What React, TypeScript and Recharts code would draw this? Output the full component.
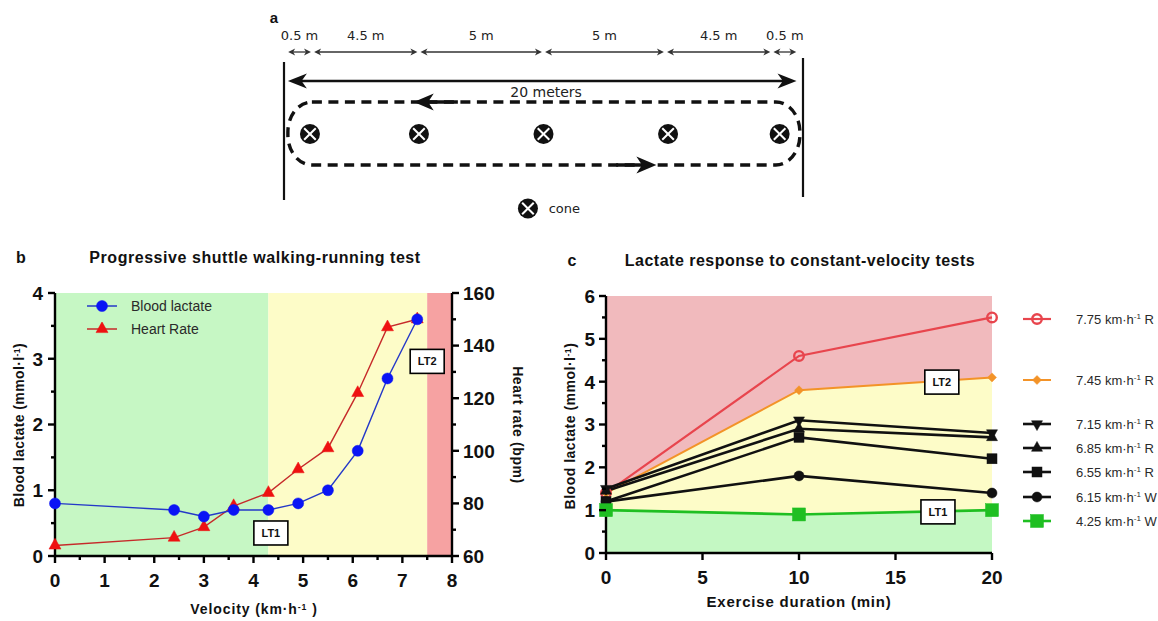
import React from 'react';
import {
  ComposedChart,
  Line,
  Area,
  XAxis,
  YAxis,
  ReferenceArea,
  ReferenceDot,
  ReferenceLine,
  Legend,
} from 'recharts';

const FONT = '"Liberation Sans", Arial, Helvetica, sans-serif';
const SKETCH_FONT = '"DejaVu Sans", Verdana, sans-serif';
const INK = '#111';

// a: shuttle course, x in metres along the course
const segmentEdges = [0.1, 1.1, 5.2, 10.0, 14.7, 18.8, 19.8];
const segmentLabels = ['0.5 m', '4.5 m', '5 m', '5 m', '4.5 m', '0.5 m'];
const conePositions = [1.0, 5.2, 10.0, 14.8, 19.1];
const courseLabel = '20 meters';

// b: progressive shuttle walking-running test
const velocity = [0, 2.4, 3, 3.6, 4.3, 4.9, 5.5, 6.1, 6.7, 7.3];
const bloodLactate = [0.8, 0.7, 0.6, 0.7, 0.7, 0.8, 1.0, 1.6, 2.7, 3.6];
const heartRate = [64, 67, 71, 79, 84, 93, 101, 122, 147, 150];
const lt1Velocity = 4.3;
const lt2Velocity = 7.5;
const velocityTicks = [0, 0.5, 1, 1.5, 2, 2.5, 3, 3.5, 4, 4.5, 5, 5.5, 6, 6.5, 7, 7.5, 8];
const lactateTicksB = [0, 0.5, 1, 1.5, 2, 2.5, 3, 3.5, 4];
const heartRateTicks = [60, 70, 80, 90, 100, 110, 120, 130, 140, 150, 160];

// c: lactate during constant-velocity tests
const duration = [0, 10, 20];
const lactate775 = [1.4, 4.6, 5.5];
const lactate745 = [1.4, 3.8, 4.1];
const lactate715 = [1.5, 3.1, 2.8];
const lactate685 = [1.45, 2.9, 2.7];
const lactate655 = [1.2, 2.7, 2.2];
const lactate615 = [1.2, 1.8, 1.4];
const lactate425 = [1.0, 0.9, 1.0];
const durationTicks = [0, 5, 10, 15, 20];
const lactateTicksC = [0, 0.5, 1, 1.5, 2, 2.5, 3, 3.5, 4, 4.5, 5, 5.5, 6];

const shuttleData = velocity.map((v, i) => ({ v, lactate: bloodLactate[i], hr: heartRate[i] }));

const runs = [
  { key: 'v775', speed: '7.75', mode: 'R', values: lactate775 },
  { key: 'v745', speed: '7.45', mode: 'R', values: lactate745 },
  { key: 'v715', speed: '7.15', mode: 'R', values: lactate715 },
  { key: 'v685', speed: '6.85', mode: 'R', values: lactate685 },
  { key: 'v655', speed: '6.55', mode: 'R', values: lactate655 },
  { key: 'v615', speed: '6.15', mode: 'W', values: lactate615 },
  { key: 'v425', speed: '4.25', mode: 'W', values: lactate425 },
];

const runData = duration.map((t, i) => {
  const row: Record<string, number> = { t };
  runs.forEach((r) => {
    row[r.key] = r.values[i];
  });
  return row;
});

type MarkerKind = 'circle' | 'square' | 'triangle' | 'triangleDown' | 'diamond';

const runStyle: Record<string, { color: string; marker: MarkerKind; size: number; open?: boolean; width: number; legendTop: number }> = {
  v775: { color: '#e8454d', marker: 'circle', size: 12, open: true, width: 2.2, legendTop: 70 },
  v745: { color: '#f39328', marker: 'diamond', size: 9, width: 2, legendTop: 131 },
  v715: { color: INK, marker: 'triangleDown', size: 11, width: 2.6, legendTop: 175 },
  v685: { color: INK, marker: 'triangle', size: 11, width: 2.6, legendTop: 199 },
  v655: { color: INK, marker: 'square', size: 10, width: 2.6, legendTop: 223 },
  v615: { color: INK, marker: 'circle', size: 10, width: 2.6, legendTop: 248 },
  v425: { color: '#1fbf22', marker: 'square', size: 13, width: 2.6, legendTop: 272 },
};

function Marker({ cx, cy, kind, size, color, open = false }: { cx?: number; cy?: number; kind: MarkerKind; size: number; color: string; open?: boolean }) {
  if (cx == null || cy == null) return null;
  const h = size / 2;
  const common = { fill: open ? 'none' : color, stroke: color, strokeWidth: open ? 2.4 : 0.5 };
  switch (kind) {
    case 'square':
      return <rect x={cx - h} y={cy - h} width={size} height={size} {...common} />;
    case 'triangle': {
      const t = size * 0.9;
      return <polygon points={`${cx},${cy - (t * 2) / 3} ${cx + h},${cy + t / 3} ${cx - h},${cy + t / 3}`} {...common} />;
    }
    case 'triangleDown': {
      const t = size * 0.9;
      return <polygon points={`${cx},${cy + (t * 2) / 3} ${cx + h},${cy - t / 3} ${cx - h},${cy - t / 3}`} {...common} />;
    }
    case 'diamond':
      return <polygon points={`${cx},${cy - h} ${cx + h},${cy} ${cx},${cy + h} ${cx - h},${cy}`} {...common} />;
    default:
      return <circle cx={cx} cy={cy} r={open ? h - 1.2 : h} {...common} />;
  }
}

// ticks drawn by hand so minor ticks are shorter and unlabelled
function axisTick(side: 'left' | 'right' | 'bottom', offset: number, isMajor: (v: number) => boolean) {
  return (props: any) => {
    const { x, y, payload, index } = props;
    const v = payload.value;
    const major = isMajor(v);
    const len = major ? 7 : 4;
    const text = { fontFamily: FONT, fontSize: 19, fontWeight: 700, fill: INK };
    if (side === 'bottom') {
      const ay = y - offset;
      return (
        <g key={`t${index}`}>
          <line x1={x} x2={x} y1={ay} y2={ay + len} stroke="#000" strokeWidth={2.4} />
          {major && (
            <text x={x} y={y} dy="0.72em" textAnchor="middle" {...text}>
              {v}
            </text>
          )}
        </g>
      );
    }
    const dir = side === 'left' ? -1 : 1;
    const ax = x - dir * offset;
    return (
      <g key={`t${index}`}>
        <line x1={ax} x2={ax + dir * len} y1={y} y2={y} stroke="#000" strokeWidth={2.4} />
        {major && (
          <text x={x} y={y} dy="0.36em" textAnchor={side === 'left' ? 'end' : 'start'} {...text}>
            {v}
          </text>
        )}
      </g>
    );
  };
}

const isInt = (v: number) => Number.isInteger(v);
const AXIS_LINE = { stroke: '#000', strokeWidth: 2.4 };

const ltBox = (label: string) => (p: any) => (
  <g>
    <rect x={p.cx - 17} y={p.cy - 12} width={34} height={24} fill="#fff" stroke="#000" strokeWidth={1.6} />
    <text x={p.cx} y={p.cy} dy="0.36em" textAnchor="middle" fontFamily={FONT} fontSize={11} fontWeight={700} fill={INK}>
      {label}
    </text>
  </g>
);

function Sup({ children }: { children: React.ReactNode }) {
  return (
    <span style={{ fontSize: '0.62em', position: 'relative', top: '-0.5em', lineHeight: 0 }}>{children}</span>
  );
}

function Caption({ x, y, size, spacing = 0, bold = true, rotate = 0, children }: { x: number; y: number; size: number; spacing?: number; bold?: boolean; rotate?: number; children: React.ReactNode }) {
  return (
    <div
      style={{
        position: 'absolute',
        left: x,
        top: y,
        transform: `translate(-50%, -50%) rotate(${rotate}deg)`,
        whiteSpace: 'nowrap',
        fontFamily: FONT,
        fontSize: size,
        fontWeight: bold ? 700 : 400,
        letterSpacing: spacing,
        lineHeight: 1,
        color: INK,
      }}
    >
      {children}
    </div>
  );
}

// ---------- a: course sketch ----------
const ROW = { label: 3.5, segment: 5.2, span: 8.1, spanText: 9.25, pathTop: 10.2, cone: 13.4, pathBottom: 16.5, key: 20.85 };

function headPoints(tx: number, ty: number, dir: number, len: number, half: number) {
  const bx = tx - dir * len;
  const nx = tx - dir * len * 0.72;
  return `${tx},${ty} ${bx},${ty - half} ${nx},${ty} ${bx},${ty + half}`;
}

const smallDoubleArrow = (p: any) => (
  <g>
    <line x1={p.x1 + 3} x2={p.x2 - 3} y1={p.y1} y2={p.y2} stroke="#333" strokeWidth={1.3} />
    <polygon points={headPoints(p.x1, p.y1, -1, 7, 3.4)} fill="#333" />
    <polygon points={headPoints(p.x2, p.y2, 1, 7, 3.4)} fill="#333" />
  </g>
);

const bigDoubleArrow = (p: any) => (
  <g>
    <line x1={p.x1 + 10} x2={p.x2 - 10} y1={p.y1} y2={p.y2} stroke={INK} strokeWidth={2.6} />
    <polygon points={headPoints(p.x1, p.y1, -1, 19, 7.5)} fill={INK} />
    <polygon points={headPoints(p.x2, p.y2, 1, 19, 7.5)} fill={INK} />
  </g>
);

const pathArrow = (p: any) => {
  const dir = p.x2 > p.x1 ? 1 : -1;
  return (
    <g>
      <line x1={p.x1} x2={p.x2 - dir * 8} y1={p.y1} y2={p.y2} stroke={INK} strokeWidth={3.4} />
      <polygon points={headPoints(p.x2, p.y2, dir, 20, 8.5)} fill={INK} />
    </g>
  );
};

const loopShape = (p: any) => (
  <rect x={p.x} y={p.y} width={p.width} height={p.height} rx={24} ry={30} fill="none" stroke={INK} strokeWidth={3.4} strokeDasharray="10 6.5" />
);

const coneShape = (p: any) => {
  const d = 5.8;
  return (
    <g>
      <circle cx={p.cx} cy={p.cy} r={10} fill={INK} />
      <line x1={p.cx - d} y1={p.cy - d} x2={p.cx + d} y2={p.cy + d} stroke="#fff" strokeWidth={2} />
      <line x1={p.cx - d} y1={p.cy + d} x2={p.cx + d} y2={p.cy - d} stroke="#fff" strokeWidth={2} />
    </g>
  );
};

const sketchText = (label: string, size: number, anchor: 'middle' | 'start' = 'middle') => (p: any) => (
  <text x={p.cx} y={p.cy} dy="0.35em" textAnchor={anchor} fontFamily={SKETCH_FONT} fontSize={size} fill="#222">
    {label}
  </text>
);

function CourseSketch() {
  return (
    <div style={{ position: 'absolute', left: 0, top: 0 }}>
      <ComposedChart width={1158} height={230} data={[]} margin={{ top: 0, right: 355, bottom: 0, left: 284 }}>
        <XAxis type="number" dataKey="x" domain={[0, 20]} hide allowDataOverflow />
        <YAxis type="number" domain={[0, 23]} reversed hide allowDataOverflow />
        <ReferenceLine segment={[{ x: 0, y: 6.2 }, { x: 0, y: 20 }]} stroke={INK} strokeWidth={2.2} />
        <ReferenceLine segment={[{ x: 20, y: 5.8 }, { x: 20, y: 19.7 }]} stroke={INK} strokeWidth={2.2} />
        {segmentLabels.map((label, i) => (
          <ReferenceLine
            key={`seg${i}`}
            segment={[
              { x: segmentEdges[i] + 0.06, y: ROW.segment },
              { x: segmentEdges[i + 1] - 0.06, y: ROW.segment },
            ]}
            shape={smallDoubleArrow}
          />
        ))}
        {segmentLabels.map((label, i) => (
          <ReferenceDot
            key={`lab${i}`}
            x={(segmentEdges[i] + segmentEdges[i + 1]) / 2}
            y={ROW.label}
            shape={sketchText(label, 13)}
          />
        ))}
        <ReferenceLine segment={[{ x: 0.15, y: ROW.span }, { x: 19.75, y: ROW.span }]} shape={bigDoubleArrow} />
        <ReferenceDot x={10.1} y={ROW.spanText} shape={sketchText(courseLabel, 14)} />
        <ReferenceArea x1={0.15} x2={19.88} y1={ROW.pathTop} y2={ROW.pathBottom} shape={loopShape} />
        <ReferenceLine segment={[{ x: 6.7, y: ROW.pathTop }, { x: 5.0, y: ROW.pathTop }]} shape={pathArrow} />
        <ReferenceLine segment={[{ x: 12.8, y: ROW.pathBottom }, { x: 14.35, y: ROW.pathBottom }]} shape={pathArrow} />
        {conePositions.map((x, i) => (
          <ReferenceDot key={`cone${i}`} x={x} y={ROW.cone} shape={coneShape} />
        ))}
        <ReferenceDot x={9.4} y={ROW.key} shape={coneShape} />
        <ReferenceDot x={10.2} y={ROW.key} shape={sketchText('cone', 13, 'start')} />
      </ComposedChart>
      <Caption x={274} y={17} size={15}>a</Caption>
    </div>
  );
}

// ---------- b: progressive test ----------
const shuttleLegend = [
  { label: 'Blood lactate', color: '#2438c8', marker: 'circle' as MarkerKind, fill: '#0a14f5', size: 11 },
  { label: 'Heart Rate', color: '#c62a2a', marker: 'triangle' as MarkerKind, fill: '#ee1111', size: 12 },
];

const renderShuttleLegend = () => (
  <div style={{ fontFamily: FONT, fontSize: 14, color: '#2a2a2a' }}>
    {shuttleLegend.map((item) => (
      <div key={item.label} style={{ display: 'flex', alignItems: 'center', height: 22.5 }}>
        <svg width={30} height={14}>
          <line x1={0} x2={30} y1={7} y2={7} stroke={item.color} strokeWidth={1.5} />
          <Marker cx={15} cy={7} kind={item.marker} size={item.size} color={item.fill} />
        </svg>
        <span style={{ marginLeft: 14 }}>{item.label}</span>
      </div>
    ))}
  </div>
);

function ShuttleChart() {
  return (
    <div style={{ position: 'absolute', left: 0, top: 240 }}>
      <ComposedChart width={540} height={381} data={shuttleData} margin={{ top: 53, right: 28, bottom: 35, left: 10 }}>
        <XAxis
          type="number"
          dataKey="v"
          domain={[0, 8]}
          ticks={velocityTicks}
          interval={0}
          height={30}
          axisLine={AXIS_LINE}
          tickLine={false}
          tickSize={6}
          tickMargin={11}
          tick={axisTick('bottom', 17, isInt)}
        />
        <YAxis
          yAxisId="lac"
          type="number"
          domain={[0, 4]}
          ticks={lactateTicksB}
          interval={0}
          width={45}
          axisLine={AXIS_LINE}
          tickLine={false}
          tickSize={6}
          tickMargin={6}
          tick={axisTick('left', 12, isInt)}
        />
        <YAxis
          yAxisId="hr"
          orientation="right"
          type="number"
          domain={[60, 160]}
          ticks={heartRateTicks}
          interval={0}
          width={60}
          axisLine={AXIS_LINE}
          tickLine={false}
          tickSize={6}
          tickMargin={5}
          tick={axisTick('right', 11, (v) => v % 20 === 0)}
        />
        <ReferenceArea yAxisId="lac" x1={0} x2={lt1Velocity} fill="#c6f7c4" fillOpacity={1} stroke="none" />
        <ReferenceArea yAxisId="lac" x1={lt1Velocity} x2={lt2Velocity} fill="#fdfcc8" fillOpacity={1} stroke="none" />
        <ReferenceArea yAxisId="lac" x1={lt2Velocity} x2={8} fill="#f6a2a2" fillOpacity={1} stroke="none" />
        <Line
          yAxisId="hr"
          dataKey="hr"
          type="linear"
          stroke="#c62a2a"
          strokeWidth={1.4}
          isAnimationActive={false}
          activeDot={false}
          dot={(p: any) => <Marker key={`hr${p.index}`} cx={p.cx} cy={p.cy} kind="triangle" size={12} color="#ee1111" />}
        />
        <Line
          yAxisId="lac"
          dataKey="lactate"
          type="linear"
          stroke="#2438c8"
          strokeWidth={1.4}
          isAnimationActive={false}
          activeDot={false}
          dot={(p: any) => <Marker key={`lac${p.index}`} cx={p.cx} cy={p.cy} kind="circle" size={11} color="#0a14f5" />}
        />
        <ReferenceDot yAxisId="lac" x={4.35} y={0.35} shape={ltBox('LT1')} />
        <ReferenceDot yAxisId="lac" x={7.5} y={2.96} shape={ltBox('LT2')} />
        <Legend
          layout="vertical"
          align="center"
          verticalAlign="middle"
          content={renderShuttleLegend}
          wrapperStyle={{ left: 87, top: 55, width: 'auto', height: 'auto' }}
        />
      </ComposedChart>
      <Caption x={21} y={18} size={16}>b</Caption>
      <Caption x={255} y={18} size={16} spacing={0.55}>Progressive shuttle walking-running test</Caption>
      <Caption x={19} y={185} size={14} spacing={0.4} rotate={-90}>
        Blood lactate (mmol·l<Sup>-1</Sup>)
      </Caption>
      <Caption x={518} y={185} size={14} spacing={0.6} rotate={90}>
        Heart rate (bpm)
      </Caption>
      <Caption x={254} y={369} size={14} spacing={0.9}>
        Velocity (km·h<Sup>-1</Sup> )
      </Caption>
    </div>
  );
}

// ---------- c: constant-velocity tests ----------
const renderRunLegend = () => (
  <div style={{ position: 'relative', width: 140, height: 300, fontFamily: FONT, fontSize: 13, color: '#2a2a2a' }}>
    {runs.map((r) => {
      const s = runStyle[r.key];
      return (
        <div key={r.key} style={{ position: 'absolute', left: 0, top: s.legendTop, display: 'flex', alignItems: 'center', height: 18 }}>
          <svg width={28} height={18}>
            <line x1={0} x2={28} y1={9} y2={9} stroke={s.color} strokeWidth={s.width} />
            <Marker cx={14} cy={9} kind={s.marker} size={s.size} color={s.color} open={s.open} />
          </svg>
          <span style={{ marginLeft: 25, whiteSpace: 'nowrap' }}>
            {r.speed} km·h<Sup>-1</Sup> {r.mode}
          </span>
        </div>
      );
    })}
  </div>
);

function ConstantVelocityChart() {
  return (
    <div style={{ position: 'absolute', left: 560, top: 240 }}>
      <ComposedChart width={598} height={381} data={runData} margin={{ top: 56, right: 166, bottom: 38, left: 10 }}>
        <XAxis
          type="number"
          dataKey="t"
          domain={[0, 20]}
          ticks={durationTicks}
          interval={0}
          height={30}
          axisLine={AXIS_LINE}
          tickLine={false}
          tickSize={6}
          tickMargin={11}
          tick={axisTick('bottom', 17, () => true)}
        />
        <YAxis
          type="number"
          domain={[0, 6]}
          ticks={lactateTicksC}
          interval={0}
          width={36}
          axisLine={AXIS_LINE}
          tickLine={false}
          tickSize={6}
          tickMargin={5}
          tick={axisTick('left', 11, isInt)}
        />
        <ReferenceArea x1={0} x2={20} y1={0} y2={6} fill="#f1babd" fillOpacity={1} stroke="none" />
        <Area dataKey="v745" type="linear" baseValue={0} fill="#fdfcc8" fillOpacity={1} stroke="none" isAnimationActive={false} activeDot={false} />
        <Area dataKey="v425" type="linear" baseValue={0} fill="#c4f8c3" fillOpacity={1} stroke="none" isAnimationActive={false} activeDot={false} />
        {runs.map((r) => {
          const s = runStyle[r.key];
          return (
            <Line
              key={r.key}
              dataKey={r.key}
              type="linear"
              stroke={s.color}
              strokeWidth={s.width}
              isAnimationActive={false}
              activeDot={false}
              dot={(p: any) => (
                <Marker key={`${r.key}${p.index}`} cx={p.cx} cy={p.cy} kind={s.marker} size={s.size} color={s.color} open={s.open} />
              )}
            />
          );
        })}
        <ReferenceDot x={17.4} y={3.99} shape={ltBox('LT2')} />
        <ReferenceDot x={17.2} y={0.96} shape={ltBox('LT1')} />
        <Legend
          layout="vertical"
          align="center"
          verticalAlign="middle"
          content={renderRunLegend}
          wrapperStyle={{ left: 463, top: 0, width: 140, height: 300 }}
        />
      </ComposedChart>
      <Caption x={12} y={21} size={16}>c</Caption>
      <Caption x={240} y={21} size={16} spacing={0.5}>Lactate response to constant-velocity tests</Caption>
      <Caption x={10} y={186} size={14} spacing={0.5} rotate={-90}>
        Blood lactate (mmol·l<Sup>-1</Sup>)
      </Caption>
      <Caption x={239} y={361} size={15} spacing={0.8}>Exercise duration (min)</Caption>
    </div>
  );
}

export default function App() {
  return (
    <div style={{ position: 'absolute', left: 0, top: 0, width: 1158, height: 621, background: '#fff', overflow: 'hidden' }}>
      <CourseSketch />
      <ShuttleChart />
      <ConstantVelocityChart />
    </div>
  );
}
